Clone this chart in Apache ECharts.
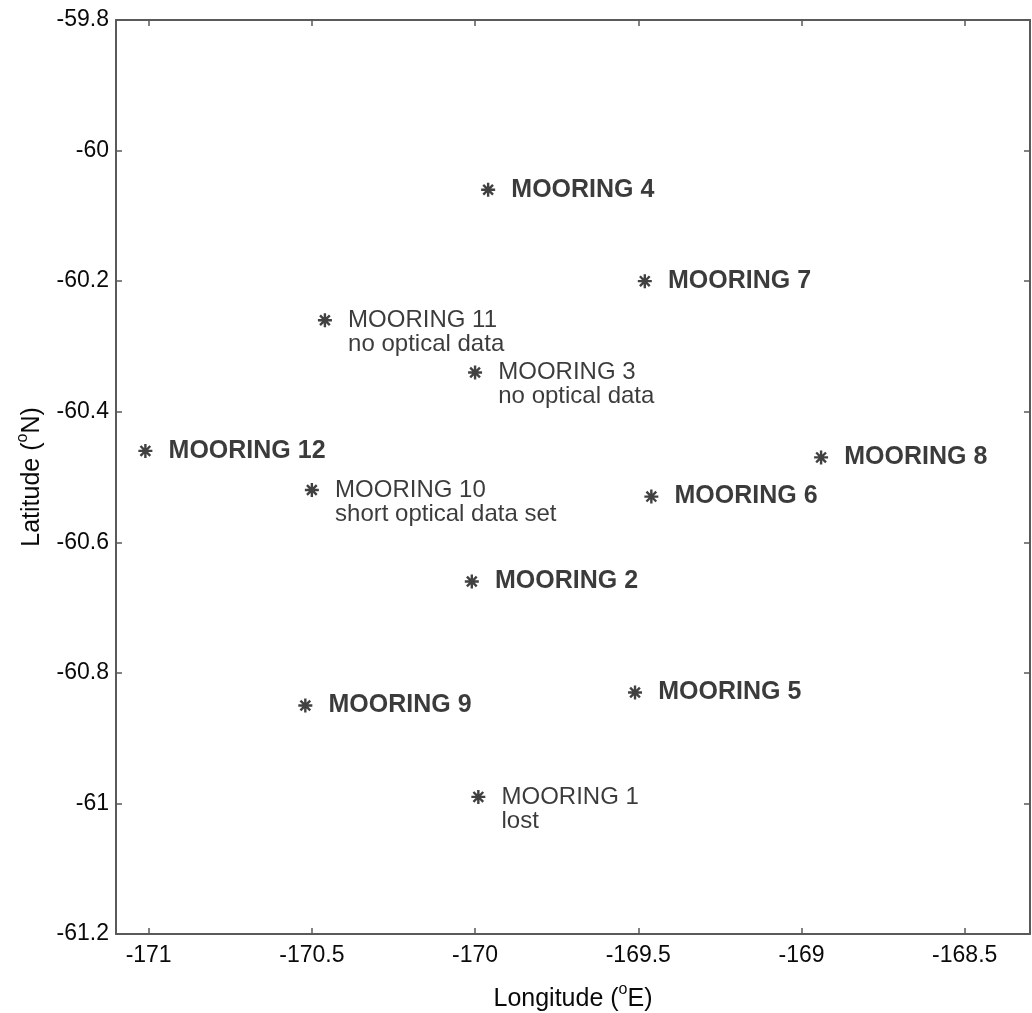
<!DOCTYPE html>
<html><head><meta charset="utf-8">
<script src="https://cdn.jsdelivr.net/npm/echarts@6/dist/echarts.min.js"></script>
<style>html,body{margin:0;padding:0;background:#fff}#c{width:1032px;height:1013px}</style>
</head><body><div id="c"></div>
<script>
const names = ['MOORING 1','MOORING 2','MOORING 3','MOORING 4','MOORING 5','MOORING 6','MOORING 7','MOORING 8','MOORING 9','MOORING 10','MOORING 11','MOORING 12'];
const lon = [-169.99,-170.01,-170.00,-169.96,-169.51,-169.46,-169.48,-168.94,-170.52,-170.50,-170.46,-171.01];
const lat = [-60.99,-60.66,-60.34,-60.06,-60.83,-60.53,-60.20,-60.47,-60.85,-60.52,-60.26,-60.46];
const notes = ['lost','','no optical data','','','','','','','short optical data set','no optical data',''];
const xTicks = [-171,-170.5,-170,-169.5,-169,-168.5];
const yTicks = [-61.2,-61,-60.8,-60.6,-60.4,-60.2,-60,-59.8];

const FONT = '"Liberation Sans", Arial, Helvetica, sans-serif';
const AX = '#5a5a5a';
const TXT = '#0a0a0a';
const data = names.map((n,i)=>({
  value:[lon[i],lat[i]], name:n,
  label:{
    formatter: notes[i] ? '{n|'+n+'}\n{n|'+notes[i]+'}' : '{b|'+n+'}',
    offset: notes[i] ? [0,12] : [0,0]
  }
}));
const chart = echarts.init(document.getElementById('c'), null, {renderer:'canvas'});
const common = {
  axisLine:{show:true,lineStyle:{color:AX,width:2}},
  axisTick:{show:true,inside:true,length:6,lineStyle:{color:AX,width:1.5}},
  splitLine:{show:false}
};
const nameRich = {
  t:{fontSize:25,color:TXT,fontFamily:FONT,lineHeight:30,verticalAlign:'bottom'},
  s:{fontSize:16,color:TXT,fontFamily:FONT,lineHeight:30,verticalAlign:'top',padding:[0,0,10,0]}
};
chart.setOption({
  animation:false,
  backgroundColor:'#fff',
  textStyle:{fontFamily:FONT},
  grid:{left:116,top:20,right:2,bottom:79,containLabel:false,outerBoundsMode:'none'},
  xAxis:[
    Object.assign({}, common, {type:'value',min:-171.1,max:-168.3,position:'bottom',
      axisTick:Object.assign({}, common.axisTick, {customValues:xTicks}),
      axisLabel:{customValues:xTicks,color:TXT,fontSize:23,fontFamily:FONT,margin:10,formatter:v=>String(v)},
      name:'{t|Longitude (}{s|o}{t|E)}',nameLocation:'middle',nameGap:48,
      nameTextStyle:{fontSize:25,rich:nameRich}
    }),
    Object.assign({}, common, {type:'value',min:-171.1,max:-168.3,position:'top',
      axisTick:Object.assign({}, common.axisTick, {customValues:xTicks}),
      axisLabel:{show:false}})
  ],
  yAxis:[
    Object.assign({}, common, {type:'value',min:-61.2,max:-59.8,position:'left',
      axisTick:Object.assign({}, common.axisTick, {customValues:yTicks}),
      axisLabel:{customValues:yTicks,color:TXT,fontSize:23,fontFamily:FONT,margin:7,formatter:v=>String(Math.round(v*10)/10)},
      name:'{t|Latitude (}{s|o}{t|N)}',nameLocation:'middle',nameGap:71,nameRotate:90,
      nameTextStyle:{fontSize:25,rich:nameRich}
    }),
    Object.assign({}, common, {type:'value',min:-61.2,max:-59.8,position:'right',
      axisTick:Object.assign({}, common.axisTick, {customValues:yTicks}),
      axisLabel:{show:false}})
  ],
  series:[{
    type:'scatter',
    xAxisIndex:0,yAxisIndex:0,
    symbol:'path://M0,-10L0,10M-10,0L10,0M-7,-7L7,7M-7,7L7,-7',
    symbolSize:14,
    itemStyle:{color:'rgba(0,0,0,0)',borderColor:'#111',borderWidth:2.4},
    label:{show:true,position:'right',distance:15,color:TXT,
      rich:{
        b:{fontSize:25,fontWeight:'bold',color:TXT,fontFamily:FONT,lineHeight:24},
        n:{fontSize:24,color:TXT,fontFamily:FONT,lineHeight:24}
      }},
    emphasis:{disabled:true},
    data:data
  }]
});
</script></body></html>
